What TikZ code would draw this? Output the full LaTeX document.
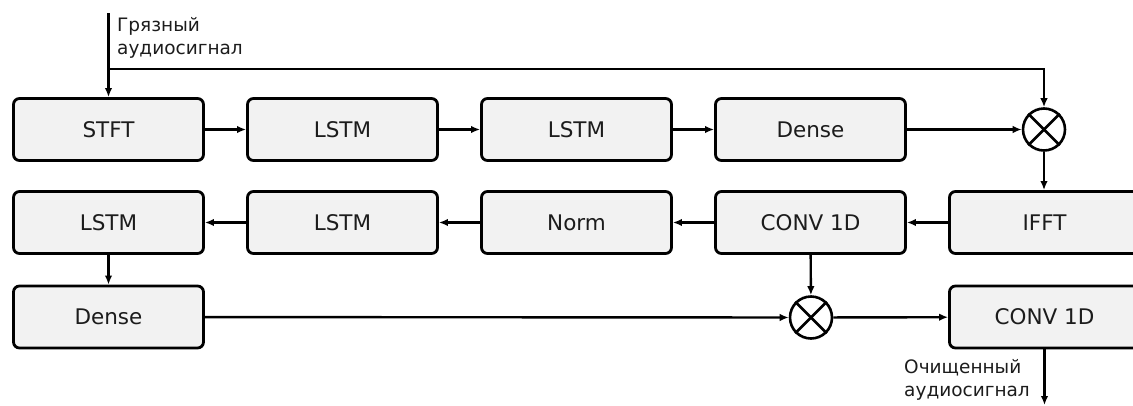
\documentclass[tikz,border=0pt]{standalone}
\usepackage{fontspec}
\setmainfont{DejaVu Sans}
\usetikzlibrary{arrows.meta}
\definecolor{boxfill}{HTML}{F2F2F2}
\definecolor{textgray}{HTML}{1C1C1C}
\tikzset{
  block/.style={draw, rounded corners=6pt, line width=2.8pt, fill=boxfill,
    minimum width=190pt, minimum height=62pt, inner sep=0pt,
    text=textgray, font=\fontsize{21.5}{25}\selectfont},
  mult/.style={draw, circle, line width=2.6pt, minimum size=42pt, inner sep=0pt},
  flow/.style={line width=2.4pt, -{Latex[length=9pt,width=7.5pt]}},
  sig/.style={text=textgray, align=left, inner sep=0pt, anchor=north west,
    font=\fontsize{18.5}{23}\selectfont}
}

\begin{document}
\begin{tikzpicture}[x=1pt, y=-1pt]
    \useasboundingbox (0,0) rectangle (1133,405);

    % First row (forward)
    \node[block] (STFT)  at (108.5,129.5) {STFT};
    \node[block] (LSTMa) at (342.5,129.5) {LSTM};
    \node[block] (LSTMb) at (576.5,129.5) {LSTM};
    \node[block] (DENSEa) at (810.5,129.5) {Dense};
    \node[mult]  (MULa)  at (1044,129.5) {};

    % Second row (backward)
    \node[block] (IFFT)  at (1044.5,222.5) {IFFT};
    \node[block] (CONVa) at (810.5,222.5) {CONV 1D};
    \node[block] (NORM)  at (576.5,222.5) {Norm};
    \node[block] (LSTMc) at (342.5,222.5) {LSTM};
    \node[block] (LSTMd) at (108.5,222.5) {LSTM};

    % Third row
    \node[block] (DENSEb) at (108.5,317) {Dense};
    \node[mult]  (MULb)  at (811,317.5) {};
    \node[block] (CONVb) at (1044.5,317) {CONV 1D};

    % Crosses in the multipliers
    \foreach \m in {MULa, MULb} {
      \draw[line width=2.6pt] (\m.north west) -- (\m.south east);
      \draw[line width=2.6pt] (\m.north east) -- (\m.south west);
    }

    % Input and output
    \coordinate (in) at (108.5,13);
    \coordinate (split) at (108.5,69);
    \coordinate (out) at (1044.5,405);
    \node[sig] (inlabel) at (117,17) {Грязный\\аудиосигнал};
    \node[sig] (outlabel) at (904,359) {Очищенный\\аудиосигнал};

    % Connections
    \draw[flow] (in) -- (STFT);
    \draw[flow] (split) -- (MULa.north |- split) -- (MULa);
    \draw[flow] (STFT) -- (LSTMa);
    \draw[flow] (LSTMa) -- (LSTMb);
    \draw[flow] (LSTMb) -- (DENSEa);
    \draw[flow] (DENSEa) -- (MULa);
    \draw[flow] (MULa) -- (MULa |- IFFT.north);
    \draw[flow] (IFFT) -- (CONVa);
    \draw[flow] (CONVa) -- (NORM);
    \draw[flow] (NORM) -- (LSTMc);
    \draw[flow] (LSTMc) -- (LSTMd);
    \draw[flow] (LSTMd) -- (DENSEb);
    \draw[flow] (DENSEb) -- (MULb);
    \draw[flow] (CONVa) -- (MULb);
    \draw[flow] (MULb) -- (CONVb);
    \draw[flow] (CONVb) -- (out);

\end{tikzpicture}
\end{document}
